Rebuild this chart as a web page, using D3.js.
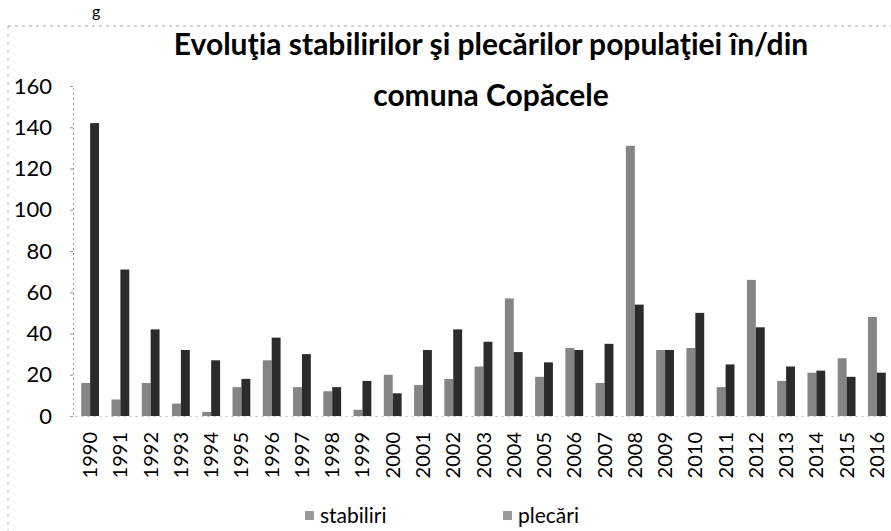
<!DOCTYPE html>
<html>
<head>
<meta charset="utf-8">
<script src="https://cdn.jsdelivr.net/npm/d3@7"></script>
<style>
  body { margin: 0; background: #fff; }
  text { font-family: Lato, "Open Sans", sans-serif; fill: #000; }
</style>
</head>
<body>
<div id="chart"></div>
<script>
// data
const years = ["1990", "1991", "1992", "1993", "1994", "1995", "1996", "1997", "1998", "1999",
  "2000", "2001", "2002", "2003", "2004", "2005", "2006", "2007", "2008", "2009",
  "2010", "2011", "2012", "2013", "2014", "2015", "2016"];
const stabiliri = [16, 8, 16, 6, 2, 14, 27, 14, 12, 3,
  20, 15, 18, 24, 57, 19, 33, 16, 131, 32,
  33, 14, 66, 17, 21, 28, 48];
const plecari = [142, 71, 42, 32, 27, 18, 38, 30, 14, 17,
  11, 32, 42, 36, 31, 26, 32, 35, 54, 32,
  50, 25, 43, 24, 22, 19, 21];
const seriesNames = ["stabiliri", "plecări"];
const yTicks = [0, 20, 40, 60, 80, 100, 120, 140, 160];
const titleLines = ["Evoluţia stabilirilor şi plecărilor populaţiei în/din", "comuna Copăcele"];

const width = 891, height = 531;
const colors = ["#858585", "#2b2b2b"];

const svg = d3.select("#chart").append("svg")
  .attr("width", width)
  .attr("height", height);

// scanned page frame (dotted)
svg.append("line")
  .attr("x1", 8).attr("x2", width).attr("y1", 26).attr("y2", 26)
  .attr("stroke", "#aaa").attr("stroke-dasharray", "3,4");
svg.append("line")
  .attr("x1", 8).attr("x2", 8).attr("y1", 26).attr("y2", height)
  .attr("stroke", "#aaa").attr("stroke-dasharray", "3,5");
// caption letter above the chart
svg.append("text").attr("x", 92).attr("y", 17).style("font-size", "16px").text("g");

const x = d3.scaleBand().domain(years).range([75, 892]).paddingInner(0);
const y = d3.scaleLinear().domain([0, 160]).range([416, 86]);
const xs = d3.scaleBand().domain([0, 1]).range([0, x.bandwidth()]).paddingOuter(0.7).paddingInner(0);

// title
svg.append("g").selectAll("text")
  .data(titleLines)
  .join("text")
  .attr("x", 491)
  .attr("y", (d, i) => 55 + i * 51)
  .attr("text-anchor", "middle")
  .style("font-size", "30px")
  .style("font-weight", "bold")
  .text((d) => d);

// y axis
const yAxis = svg.append("g")
  .attr("transform", "translate(73,0)")
  .call(d3.axisLeft(y).tickValues(yTicks).tickSize(3).tickPadding(18));
yAxis.select(".domain").attr("stroke", "#999").attr("stroke-dasharray", "2,3");
yAxis.selectAll(".tick line").attr("stroke", "#999");
yAxis.selectAll(".tick text").style("font-size", "22px").style("font-family", "Lato");

// x axis
const xAxis = svg.append("g")
  .attr("transform", `translate(0,${y(0)})`)
  .call(d3.axisBottom(x).tickSize(0).tickPadding(0));
xAxis.select(".domain").attr("stroke", "#bbb").attr("stroke-dasharray", "2,4");
xAxis.selectAll(".tick text")
  .style("font-size", "20px")
  .style("font-family", "Lato")
  .attr("transform", "translate(0,16)rotate(-90)")
  .attr("dy", "0.35em")
  .attr("text-anchor", "end")
  .attr("x", 0)
  .attr("y", 0);

// bars
const rows = years.map((yr, i) => ({ year: yr, values: [stabiliri[i], plecari[i]] }));
svg.append("g").selectAll("g")
  .data(rows)
  .join("g")
  .attr("transform", (d) => `translate(${x(d.year)},0)`)
  .selectAll("rect")
  .data((d) => d.values.map((v, k) => ({ k, v })))
  .join("rect")
  .attr("x", (d) => xs(d.k))
  .attr("y", (d) => y(d.v))
  .attr("width", xs.bandwidth())
  .attr("height", (d) => y(0) - y(d.v))
  .attr("fill", (d) => colors[d.k]);

// legend
const legendX = [305, 503];
const legend = svg.append("g").selectAll("g")
  .data(seriesNames)
  .join("g")
  .attr("transform", (d, i) => `translate(${legendX[i]},516)`);
legend.append("rect")
  .attr("x", 0).attr("y", -5).attr("width", 9).attr("height", 9)
  .attr("fill", "#9a9a9a");
legend.append("text")
  .attr("x", 15).attr("y", 0).attr("dy", "0.35em")
  .style("font-size", "21px")
  .text((d) => d);
</script>
</body>
</html>
